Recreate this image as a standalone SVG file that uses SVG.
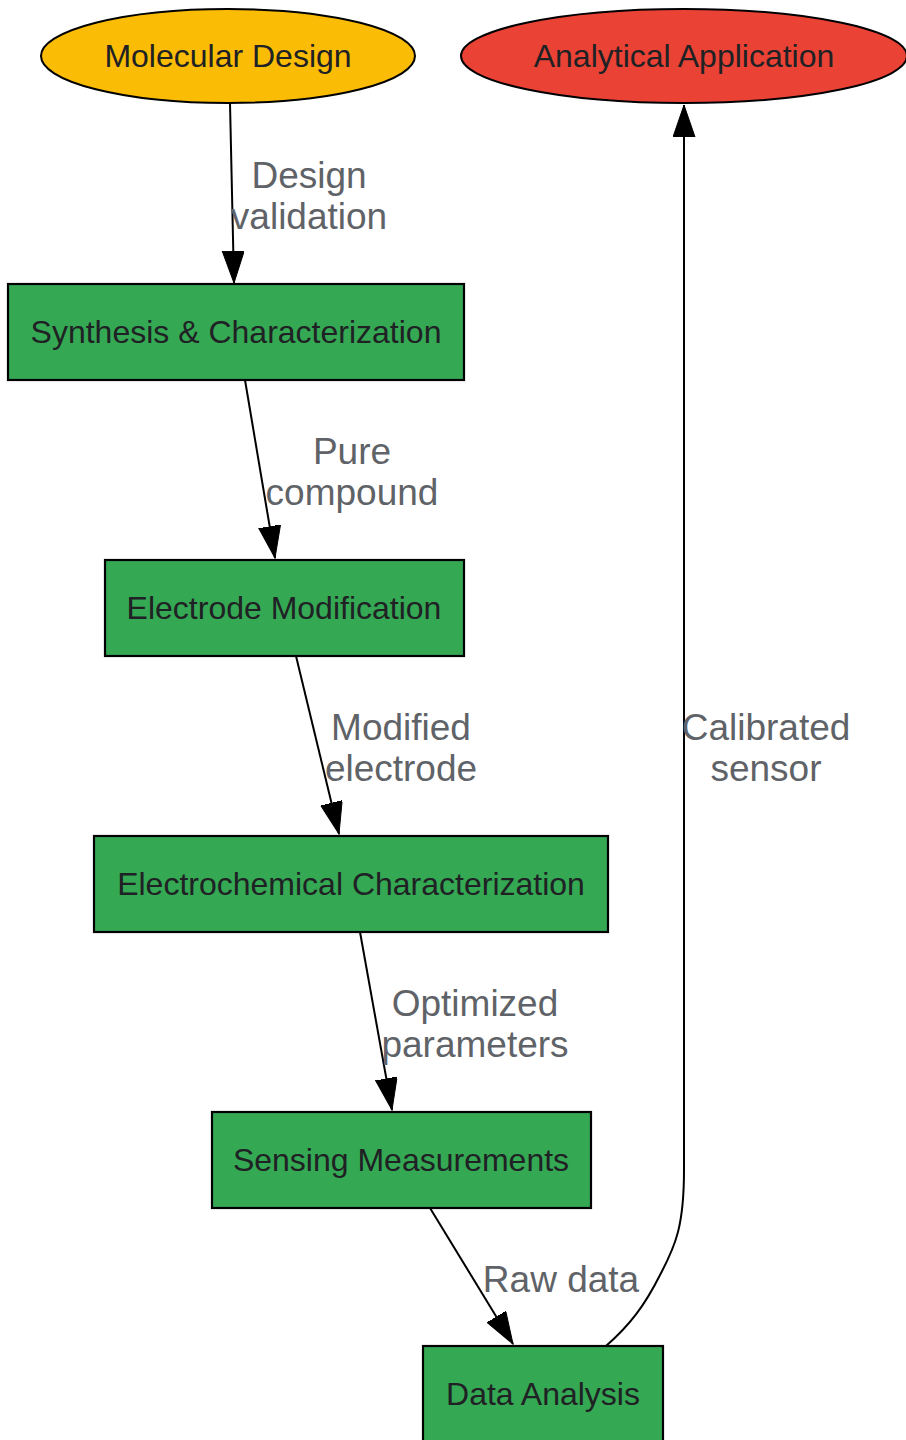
<svg xmlns="http://www.w3.org/2000/svg" width="906" height="1440" viewBox="0 0 906 1440">
<style>
.node-e{stroke:#000;stroke-width:2}
.box{fill:#34a853;stroke:#000;stroke-width:2.2}
.nt{font-family:"Liberation Sans",Arial,sans-serif;font-size:32px;fill:#202124;text-anchor:middle}
.et{font-family:"Liberation Sans",Arial,sans-serif;font-size:37px;fill:#5f6368;text-anchor:middle}
.edge{fill:none;stroke:#000;stroke-width:2;marker-end:url(#arr)}
</style>
<defs>
<marker id="arr" markerUnits="userSpaceOnUse" markerWidth="34" markerHeight="24" refX="32" refY="11" orient="auto" viewBox="0 0 34 24">
<path d="M0,0 L32,11 L0,22 z" fill="#000" stroke="#000" stroke-width="1"/>
</marker>
</defs>
<rect width="906" height="1440" fill="#fff"/>
<g id="edges">
<path class="edge" d="M230,103 L234,283"/>
<path class="edge" d="M245,380 L275,558"/>
<path class="edge" d="M296,656 L339,834"/>
<path class="edge" d="M360,932 L392,1110"/>
<path class="edge" d="M430,1208 L513,1344"/>
<path class="edge" d="M606,1346 C630,1325 645,1305 660,1275 C676,1245 684,1225 684,1170 L684,105"/>
<text class="et" x="309" y="188">Design</text>
<text class="et" x="309" y="229">validation</text>
<text class="et" x="352" y="464">Pure</text>
<text class="et" x="352" y="505">compound</text>
<text class="et" x="401" y="740">Modified</text>
<text class="et" x="401" y="781">electrode</text>
<text class="et" x="475" y="1016">Optimized</text>
<text class="et" x="475" y="1057">parameters</text>
<text class="et" x="561" y="1292">Raw data</text>
<text class="et" x="766" y="740">Calibrated</text>
<text class="et" x="766" y="781">sensor</text>
</g>
<g id="molecular-design">
<ellipse class="node-e" cx="228" cy="56" rx="187" ry="47" fill="#fbbc05"/>
<text class="nt" x="228" y="67">Molecular Design</text>
</g>
<g id="analytical-application">
<ellipse class="node-e" cx="684" cy="56" rx="223" ry="47" fill="#ea4335"/>
<text class="nt" x="684" y="67">Analytical Application</text>
</g>
<g id="synthesis">
<rect class="box" x="8" y="284" width="456" height="96"/>
<text class="nt" x="236" y="343">Synthesis &amp; Characterization</text>
</g>
<g id="electrode-modification">
<rect class="box" x="105" y="560" width="359" height="96"/>
<text class="nt" x="284" y="619">Electrode Modification</text>
</g>
<g id="electrochemical-characterization">
<rect class="box" x="94" y="836" width="514" height="96"/>
<text class="nt" x="351" y="895">Electrochemical Characterization</text>
</g>
<g id="sensing-measurements">
<rect class="box" x="212" y="1112" width="379" height="96"/>
<text class="nt" x="401" y="1171">Sensing Measurements</text>
</g>
<g id="data-analysis">
<rect class="box" x="423" y="1346" width="240" height="96"/>
<text class="nt" x="543" y="1405">Data Analysis</text>
</g>
</svg>
